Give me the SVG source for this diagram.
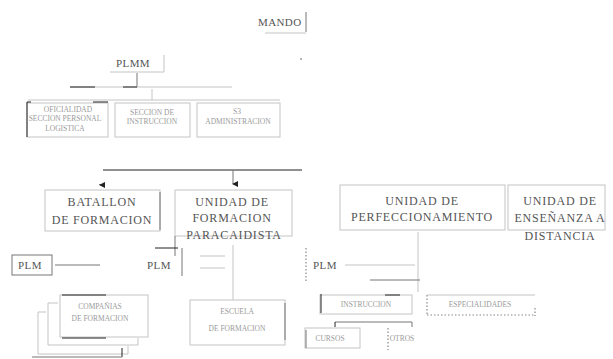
<svg xmlns="http://www.w3.org/2000/svg" width="613" height="359" viewBox="0 0 613 359">
<style>
text{font-family:'Liberation Serif','Times New Roman',Times,serif;fill:#555}
.b{font-size:12px;letter-spacing:0.8px}
.m{font-size:11px;letter-spacing:0.4px}
.s{font-size:7.5px;fill:#9a9a9a}
.ln{stroke:#c4c4c4;stroke-width:1;fill:none}
.dk{stroke:#222;stroke-width:1;fill:none}
.md{stroke:#777;stroke-width:1;fill:none}
.dt{stroke:#888;stroke-width:1.2;fill:none;stroke-dasharray:1.5 2}
</style>
<defs>
<marker id="ar" markerWidth="6" markerHeight="6" refX="3" refY="5" orient="auto" markerUnits="userSpaceOnUse">
<path d="M0,0 L6,0 L3,6 Z" fill="#222"/>
</marker>
</defs>
<rect width="613" height="359" fill="#fff"/>
<g id="connectors">
<line class="md" x1="137" y1="73" x2="137" y2="87"/>
<line class="ln" x1="70" y1="87" x2="232" y2="87"/>
<line class="dk" x1="70" y1="87" x2="95" y2="87"/>
<line class="dk" x1="123" y1="87" x2="137" y2="87"/>
<line class="ln" x1="152" y1="89" x2="152" y2="100"/>
<line class="ln" x1="28" y1="100" x2="280" y2="100"/>
<line class="dk" x1="103" y1="170" x2="302" y2="170"/>
<line class="md" x1="233" y1="170" x2="233" y2="184" marker-end="url(#ar)"/>
<line class="dk" x1="100" y1="184" x2="100" y2="185" marker-end="url(#ar)"/>
<line class="ln" x1="233" y1="245" x2="233" y2="300"/>
<line class="md" x1="55" y1="265" x2="100" y2="265"/>
<line class="ln" x1="345" y1="265" x2="415" y2="265"/>
<line class="ln" x1="418" y1="232" x2="418" y2="292"/>
<line class="md" x1="370" y1="280" x2="420" y2="280"/>
<line class="md" x1="335" y1="322" x2="412" y2="322"/>
<line class="dk" x1="335" y1="322" x2="335" y2="327"/>
<line class="md" x1="412" y1="322" x2="412" y2="327"/>
<line class="ln" x1="200" y1="256" x2="225" y2="256"/>
<line class="ln" x1="200" y1="268" x2="225" y2="268"/>
</g>
<g id="mando">
<line class="ln" x1="265" y1="33" x2="306" y2="33"/>
<line class="md" x1="306" y1="12" x2="306" y2="32"/>
<text class="m" x="258" y="26">MANDO</text>
<circle cx="301" cy="59" r="0.8" fill="#555"/>
</g>
<g id="plmm">
<line class="ln" x1="110" y1="72" x2="164" y2="72"/>
<line class="ln" x1="164" y1="55" x2="164" y2="72"/>
<text class="m" x="116" y="67">PLMM</text>
</g>
<g id="box-a">
<rect class="ln" x="27" y="103" width="81" height="34"/>
<line class="dk" x1="27" y1="102" x2="27" y2="137"/>
<line class="dk" x1="27" y1="102" x2="31" y2="102"/>
<line class="dk" x1="93" y1="102" x2="108" y2="102"/>
<text class="s" x="68" y="112" text-anchor="middle">OFICIALIDAD</text>
<text class="s" x="65" y="121" text-anchor="middle">SECCION PERSONAL</text>
<text class="s" x="65" y="131" text-anchor="middle">LOGISTICA</text>
</g>
<g id="box-b">
<rect class="ln" x="115" y="103" width="75" height="34"/>
<text class="s" x="152" y="115" text-anchor="middle">SECCION DE</text>
<text class="s" x="152" y="124" text-anchor="middle">INSTRUCCION</text>
</g>
<g id="box-c">
<rect class="ln" x="197" y="103" width="83" height="34"/>
<text class="s" x="237" y="114" text-anchor="middle">S3</text>
<text class="s" x="238" y="124" text-anchor="middle">ADMINISTRACION</text>
</g>
<g id="batallon">
<rect class="ln" x="45" y="190" width="115" height="41"/>
<line class="md" x1="160" y1="192" x2="160" y2="230"/>
<text class="b" x="102" y="206" text-anchor="middle">BATALLON</text>
<text class="b" x="102" y="224" text-anchor="middle">DE FORMACION</text>
</g>
<g id="paracaidista">
<rect class="ln" x="175" y="190" width="117" height="46"/>
<line class="md" x1="175" y1="236" x2="175" y2="256"/>
<text class="b" x="232" y="206" text-anchor="middle">UNIDAD DE</text>
<text class="b" x="232" y="222" text-anchor="middle">FORMACION</text>
<text class="b" x="234" y="239" text-anchor="middle">PARACAIDISTA</text>
</g>
<g id="plm-1">
<rect class="md" x="12" y="255" width="40" height="20"/>
<text class="m" x="18" y="269">PLM</text>
</g>
<g id="plm-2">
<line class="dk" x1="155" y1="248" x2="178" y2="248"/>
<line class="md" x1="182" y1="248" x2="182" y2="276"/>
<text class="m" x="147" y="269">PLM</text>
</g>
<g id="compania">
<path class="ln" d="M38,312 H46 M38,312 V354 H128 V346"/>
<path class="ln" d="M48,303 H58 M48,303 V345 H138 V338"/>
<rect class="ln" x="60" y="295" width="88" height="42"/>
<line class="dk" x1="62" y1="295" x2="106" y2="295"/>
<line class="dk" x1="62" y1="338" x2="106" y2="338"/>
<line class="dk" x1="122" y1="348" x2="122" y2="357"/>
<line class="md" x1="32" y1="357" x2="122" y2="357"/>
<text class="s" x="100" y="309" text-anchor="middle">COMPAÑIAS</text>
<text class="s" x="100" y="321" text-anchor="middle">DE FORMACION</text>
</g>
<g id="escuela">
<rect class="ln" x="190" y="300" width="95" height="45"/>
<line class="md" x1="285" y1="303" x2="285" y2="340"/>
<text class="s" x="237" y="314" text-anchor="middle">ESCUELA</text>
<text class="s" x="237" y="331" text-anchor="middle">DE FORMACION</text>
</g>
<g id="perfeccionamiento">
<rect class="ln" x="340" y="185" width="165" height="45"/>
<text class="b" x="422" y="205" text-anchor="middle">UNIDAD DE</text>
<text class="b" x="422" y="221" text-anchor="middle">PERFECCIONAMIENTO</text>
</g>
<g id="distancia">
<rect class="ln" x="508" y="185" width="97" height="45"/>
<text class="b" x="560" y="205" text-anchor="middle">UNIDAD DE</text>
<text class="b" x="560" y="222" text-anchor="middle">ENSEÑANZA A</text>
<text class="b" x="560" y="240" text-anchor="middle">DISTANCIA</text>
</g>
<g id="plm-3">
<line class="dt" x1="306" y1="248" x2="306" y2="282"/>
<text class="m" x="313" y="269">PLM</text>
</g>
<g id="seccion">
<rect class="ln" x="320" y="295" width="92" height="19"/>
<line class="dk" x1="321" y1="294" x2="321" y2="313"/>
<line class="dk" x1="385" y1="295" x2="400" y2="295"/>
<text class="s" x="366" y="307" text-anchor="middle">INSTRUCCION</text>
</g>
<g id="especialidades">
<line class="dt" x1="427" y1="295" x2="427" y2="315"/>
<line class="dt" x1="427" y1="315" x2="535" y2="315"/>
<line class="ln" x1="427" y1="295" x2="535" y2="295"/>
<line class="dt" x1="535" y1="308" x2="535" y2="316"/>
<text class="s" x="480" y="307" text-anchor="middle">ESPECIALIDADES</text>
</g>
<g id="cursos">
<rect class="ln" x="305" y="328" width="55" height="20"/>
<line class="md" x1="306" y1="330" x2="306" y2="348"/>
<text class="s" x="330" y="341" text-anchor="middle">CURSOS</text>
</g>
<g id="otros">
<line class="dt" x1="388" y1="328" x2="388" y2="350"/>
<text class="s" x="402" y="341" text-anchor="middle">OTROS</text>
</g>
</svg>
